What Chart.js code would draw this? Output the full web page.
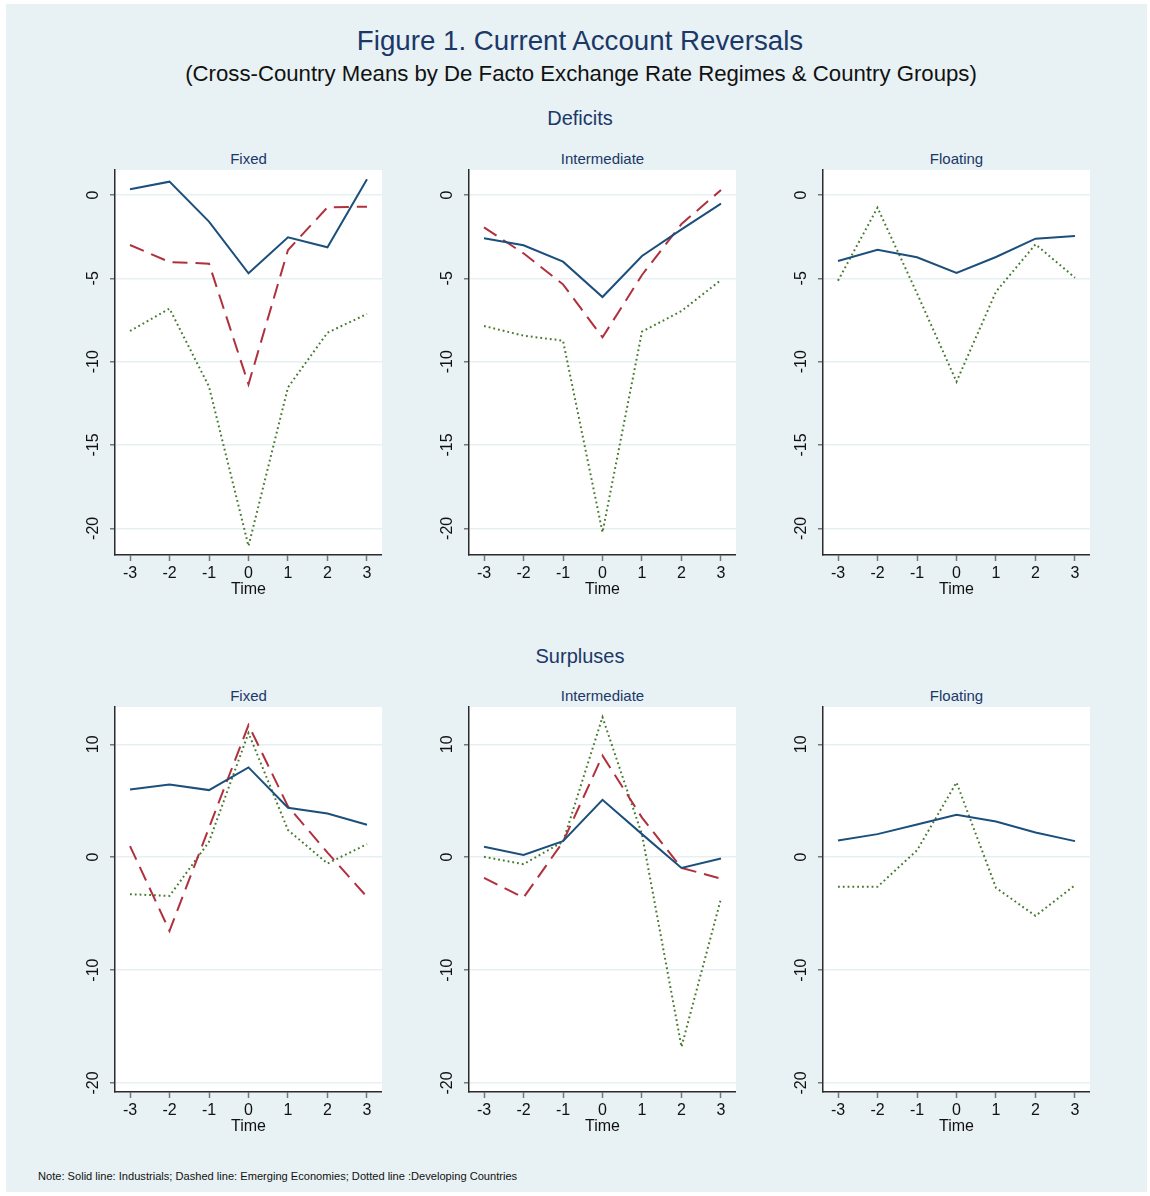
<!DOCTYPE html>
<html>
<head>
<meta charset="utf-8">
<script src="https://cdn.jsdelivr.net/npm/chart.js@4.4.1/dist/chart.umd.min.js"></script>
<style>
  html, body { margin: 0; padding: 0; background: #ffffff; width: 1150px; height: 1196px; overflow: hidden; }
  #page { position: absolute; left: 6px; top: 4px; width: 1141px; height: 1188px; background: #e8f1f4; }
  .t { position: absolute; font-family: "Liberation Sans", Arial, sans-serif; white-space: nowrap; transform: translate(-50%, -50%); line-height: 1; }
  .navy { color: #1b3868; }
  canvas { position: absolute; }
</style>
</head>
<body>
<div id="page"></div>

<div class="t navy" style="left:580px; top:41px; font-size:27.7px;">Figure 1. Current Account Reversals</div>
<div class="t" style="left:581px; top:74px; font-size:22.2px; color:#111;">(Cross-Country Means by De Facto Exchange Rate Regimes &amp; Country Groups)</div>
<div class="t navy" style="left:580px; top:118px; font-size:20px;">Deficits</div>
<div class="t navy" style="left:580px; top:656px; font-size:20px;">Surpluses</div>
<div class="t" style="left:38px; top:1177px; font-size:11.1px; color:#111; transform:translate(0,-50%);">Note: Solid line: Industrials; Dashed line: Emerging Economies; Dotted line :Developing Countries</div>

<script>
// Event time around the reversal (t = 0)
const TIME = [-3, -2, -1, 0, 1, 2, 3];

// Tick labels for each row of panels
const DEFICIT_TICKS = [0, -5, -10, -15, -20];
const SURPLUS_TICKS = [10, 0, -10, -20];

const REGIMES = ['Fixed', 'Intermediate', 'Floating'];

// Deficit reversals: current account, % of GDP
const defFixedInd  = [0.35, 0.8, -1.6, -4.7, -2.54, -3.14, 0.94];
const defFixedEme  = [-3.0, -4.02, -4.12, -11.36, -3.3, -0.74, -0.7];
const defFixedDev  = [-8.16, -6.82, -11.5, -21.06, -11.54, -8.26, -7.14];

const defInterInd  = [-2.6, -3.02, -4.0, -6.12, -3.66, -2.06, -0.52];
const defInterEme  = [-1.94, -3.5, -5.36, -8.54, -4.8, -1.74, 0.3];
const defInterDev  = [-7.86, -8.44, -8.74, -20.24, -8.2, -6.96, -5.1];

const defFloatInd  = [-3.96, -3.28, -3.74, -4.68, -3.72, -2.62, -2.46];
const defFloatDev  = [-5.14, -0.76, -5.9, -11.2, -5.8, -2.96, -4.96];

// Surplus reversals: current account, % of GDP
const surFixedInd  = [6.0, 6.44, 5.94, 7.95, 4.37, 3.87, 2.87];
const surFixedEme  = [0.98, -6.53, 2.6, 11.7, 4.5, 0.4, -3.52];
const surFixedDev  = [-3.28, -3.43, 1.36, 11.0, 2.4, -0.56, 1.15];

const surInterInd  = [0.92, 0.2, 1.42, 5.08, 2.04, -0.95, -0.12];
const surInterEme  = [-1.83, -3.58, 1.36, 8.99, 3.5, -0.95, -1.9];
const surInterDev  = [0.03, -0.62, 1.36, 12.4, 2.0, -16.8, -3.67];

const surFloatInd  = [1.48, 2.04, 2.9, 3.75, 3.16, 2.19, 1.42];
const surFloatDev  = [-2.63, -2.63, 0.6, 6.62, -2.72, -5.2, -2.48];

const FONT = '"Liberation Sans", Arial, sans-serif';
const TEXT = '#111111';
const AXIS = '#2b2b2b';
const TICKMARK = '#777777';
const GRID = '#e6eff2';

// Line styles per country group
const STYLE = {
  ind: { borderColor: '#1b4f7c', borderWidth: 2, borderDash: [] },
  eme: { borderColor: '#b0303c', borderWidth: 2, borderDash: [15, 8] },
  dev: { borderColor: '#467a2e', borderWidth: 2, borderDash: [1.8, 3] }
};

// Plot area origins for each column and row
const AREA_LEFT = [115, 469, 823];
const AREA_TOP = [170, 707];
const AREA_W = 267;
const AREA_H = 385;
const YAXIS_W = 45;
const PAD_TOP = 20;
const XAXIS_H = 50;

const ROWS = [
  { ticks: DEFICIT_TICKS, min: -21.6, max: 1.5,
    panels: [
      { ind: defFixedInd, eme: defFixedEme, dev: defFixedDev },
      { ind: defInterInd, eme: defInterEme, dev: defInterDev },
      { ind: defFloatInd, dev: defFloatDev }
    ] },
  { ticks: SURPLUS_TICKS, min: -20.8, max: 13.3,
    panels: [
      { ind: surFixedInd, eme: surFixedEme, dev: surFixedDev },
      { ind: surInterInd, eme: surInterEme, dev: surInterDev },
      { ind: surFloatInd, dev: surFloatDev }
    ] }
];

// White plotting region behind the lines
const plotBackground = {
  id: 'plotBackground',
  beforeDraw(chart) {
    const { ctx, chartArea: a } = chart;
    ctx.save();
    ctx.fillStyle = '#ffffff';
    ctx.fillRect(a.left, a.top, a.right - a.left, a.bottom - a.top);
    ctx.restore();
  }
};

function makePanel(row, col) {
  const spec = ROWS[row];
  const panel = spec.panels[col];
  const left = AREA_LEFT[col] - YAXIS_W;
  const top = AREA_TOP[row] - PAD_TOP;

  // panel heading
  const head = document.createElement('div');
  head.className = 't navy';
  head.style.left = (AREA_LEFT[col] + AREA_W / 2) + 'px';
  head.style.top = (AREA_TOP[row] - 12) + 'px';
  head.style.fontSize = '15px';
  head.textContent = REGIMES[col];
  document.body.appendChild(head);

  const canvas = document.createElement('canvas');
  canvas.width = YAXIS_W + AREA_W;
  canvas.height = PAD_TOP + AREA_H + XAXIS_H;
  canvas.style.left = left + 'px';
  canvas.style.top = top + 'px';
  canvas.style.width = canvas.width + 'px';
  canvas.style.height = canvas.height + 'px';
  document.body.appendChild(canvas);

  const datasets = ['ind', 'eme', 'dev'].filter(k => panel[k]).map(k => ({
    data: TIME.map((t, i) => ({ x: t, y: panel[k][i] })),
    borderColor: STYLE[k].borderColor,
    borderWidth: STYLE[k].borderWidth,
    borderDash: STYLE[k].borderDash,
    borderCapStyle: 'butt',
    borderJoinStyle: 'miter',
    pointRadius: 0,
    fill: false,
    tension: 0
  }));

  new Chart(canvas, {
    type: 'line',
    data: { datasets },
    plugins: [plotBackground],
    options: {
      responsive: false,
      animation: false,
      devicePixelRatio: 1,
      layout: { padding: { top: PAD_TOP, left: 0, right: 0, bottom: 0 } },
      plugins: { legend: { display: false }, tooltip: { enabled: false } },
      scales: {
        x: {
          type: 'linear',
          min: -3.38,
          max: 3.38,
          afterBuildTicks: sc => { sc.ticks = TIME.map(v => ({ value: v })); },
          afterFit: sc => { sc.height = XAXIS_H; },
          grid: { drawOnChartArea: false, drawTicks: true, tickLength: 6, tickColor: TICKMARK, tickWidth: 1.5 },
          border: { color: AXIS, width: 1.5 },
          ticks: { font: { family: FONT, size: 16 }, color: TEXT, padding: 3, maxRotation: 0, minRotation: 0 },
          title: { display: true, text: 'Time', font: { family: FONT, size: 16 }, color: TEXT, padding: { top: 0, bottom: 5.5 } }
        },
        y: {
          min: spec.min,
          max: spec.max,
          afterBuildTicks: sc => { sc.ticks = spec.ticks.map(v => ({ value: v })); },
          afterFit: sc => { sc.width = YAXIS_W; },
          grid: { color: GRID, lineWidth: 1.5, drawTicks: true, tickLength: 5, tickColor: TICKMARK, tickWidth: 1.5 },
          border: { color: AXIS, width: 1.5 },
          ticks: { font: { family: FONT, size: 16 }, color: TEXT, padding: 5, minRotation: 90, maxRotation: 90, crossAlign: 'center' }
        }
      }
    }
  });
}

for (let r = 0; r < ROWS.length; r++) {
  for (let c = 0; c < REGIMES.length; c++) makePanel(r, c);
}
</script>
</body>
</html>
